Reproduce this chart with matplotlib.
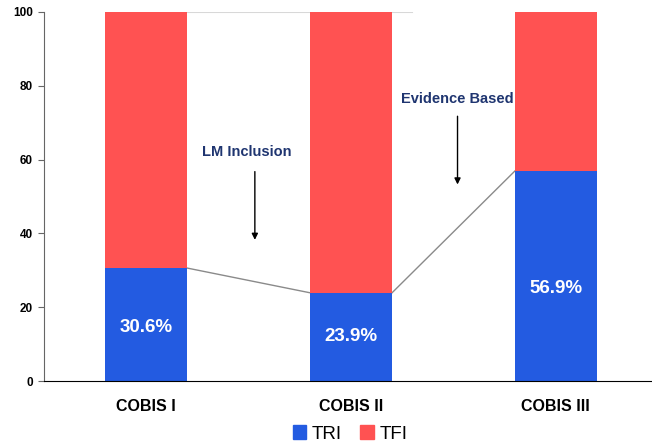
import matplotlib.pyplot as plt
from matplotlib.patches import Patch

# Share of TRI vs TFI across the three COBIS versions
versions = ['COBIS I', 'COBIS II', 'COBIS III']
tri = [30.6, 23.9, 56.9]
tfi = [100 - v for v in tri]
tri_labels = ['30.6%', '23.9%', '56.9%']
label_y = [14.5, 12.0, 25.0]

notes = ['LM Inclusion', 'Evidence Based']
note_x = [0.49, 1.52]
note_y = [62, 76.5]
arrow_x = [0.53, 1.52]
arrow_top = [57.5, 72.5]
arrow_bottom = [37.5, 52.5]

blue = '#235BE1'
red = '#FF5252'
navy = '#1F3570'
font = ['Liberation Sans', 'DejaVu Sans']

fig = plt.figure(figsize=(6.52, 4.44), dpi=100)
ax = fig.add_axes([44 / 652, 63 / 444, 608 / 652, 369 / 444])

x = list(range(len(versions)))
w = 0.4
ax.bar(x, tri, width=w, color=blue, zorder=2)
ax.bar(x, tfi, width=w, bottom=tri, color=red, zorder=2)

# series lines joining the bar segments
for i in range(len(x) - 1):
    ax.plot([x[i] + w / 2, x[i + 1] - w / 2], [tri[i], tri[i + 1]],
            color='#8a8a8a', lw=1, zorder=1)
ax.plot([x[0] + w / 2, x[1] + w / 2 + 0.1], [100, 100],
        color='#d8d8d8', lw=1.5, zorder=1)

for xi, yi, t in zip(x, label_y, tri_labels):
    ax.text(xi, yi, t, ha='center', va='center', color='white',
            fontsize=13.5, fontweight='bold', family=font, zorder=3)

for nx, ny, ax_x, top, bot, t in zip(note_x, note_y, arrow_x, arrow_top,
                                     arrow_bottom, notes):
    ax.text(nx, ny, t, ha='center', va='center', color=navy,
            fontsize=10.5, fontweight='bold', family=font)
    ax.annotate('', xy=(ax_x, bot), xytext=(ax_x, top),
                arrowprops=dict(arrowstyle='-|>', color='black', lw=1,
                                mutation_scale=9))

ax.set_xlim(-0.5, 2.47)
ax.set_ylim(0, 100)
ax.set_yticks([0, 20, 40, 60, 80, 100])
ax.set_xticks(x)
ax.set_xticklabels(versions, fontsize=11.5, fontweight='bold', family=font)
for lab in ax.get_yticklabels():
    lab.set_fontsize(8.5)
    lab.set_fontweight('bold')
    lab.set_family(font)

ax.spines['top'].set_visible(False)
ax.spines['right'].set_visible(False)
ax.spines['left'].set_color('#666666')
ax.spines['bottom'].set_color('black')
ax.tick_params(axis='x', length=0, pad=13)
ax.tick_params(axis='y', length=4, color='#666666', pad=4)

handles = [Patch(color=blue, label='TRI'), Patch(color=red, label='TFI')]
fig.legend(handles=handles, loc='center', bbox_to_anchor=(350 / 652, 1 - 434 / 444),
           ncol=2, frameon=False, handlelength=0.7, handleheight=0.7,
           handletextpad=0.3, columnspacing=1.0,
           prop={'family': font, 'size': 13.5})

fig.savefig('out.png', dpi=100)
